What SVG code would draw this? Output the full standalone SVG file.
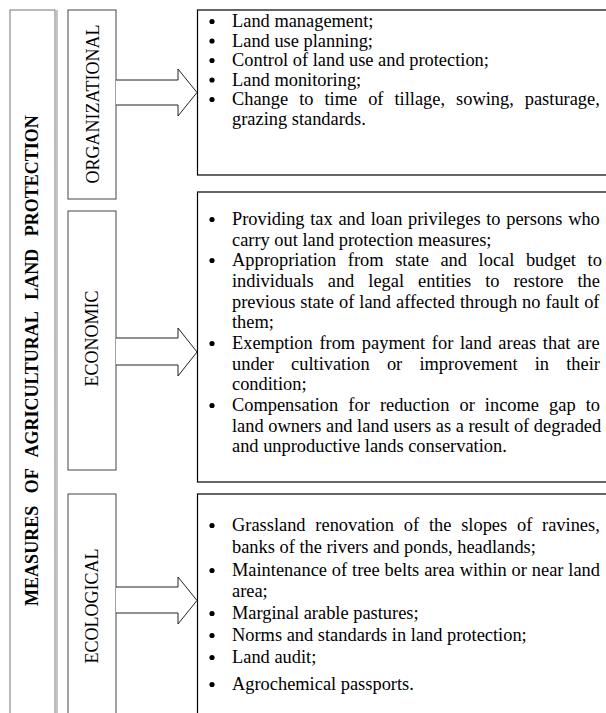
<svg xmlns="http://www.w3.org/2000/svg" width="606" height="713" viewBox="0 0 606 713">
<style>
.t{font-family:"Liberation Serif","Times New Roman",serif;font-size:18.4px;fill:#000}
.cat{font-family:"Liberation Serif","Times New Roman",serif;font-size:18px;fill:#000}
.title{font-family:"Liberation Serif","Times New Roman",serif;font-size:18px;font-weight:bold;fill:#000}
.lbox{fill:#fff;stroke:#444;stroke-width:1}
.rbox{fill:#fff;stroke:#000;stroke-width:1.2}
.arrow{fill:#fff;stroke:#222;stroke-width:1}
.b{fill:#000}
</style>
<rect width="606" height="713" fill="#fff"/>
<g id="title">
<rect x="10" y="10" width="45" height="710" fill="#fff" stroke="#777" stroke-width="1"/>
<line x1="57" y1="10" x2="57" y2="713" stroke="#888" stroke-width="1"/>
<text class="title" transform="translate(38,360.5) rotate(-90)" text-anchor="middle" word-spacing="8">MEASURES OF AGRICULTURAL LAND PROTECTION</text>
</g>
<g id="organizational">
<rect class="lbox" x="68" y="10" width="48" height="189"/>
<text class="cat" transform="translate(99,104) rotate(-90)" text-anchor="middle">ORGANIZATIONAL</text>
</g>
<g id="economic">
<rect class="lbox" x="68" y="211" width="48" height="259"/>
<text class="cat" transform="translate(98,338.5) rotate(-90)" text-anchor="middle">ECONOMIC</text>
</g>
<g id="ecological">
<rect class="lbox" x="68" y="494" width="48" height="230"/>
<text class="cat" transform="translate(98,606) rotate(-90)" text-anchor="middle">ECOLOGICAL</text>
</g>
<g id="connectors">
<path class="arrow" d="M116,80 H178 V69 L197,92.5 L178,116 V105 H116"/>
<path class="arrow" d="M116,338 H178 V328 L197,352 L178,376 V365 H116"/>
<path class="arrow" d="M116,587 H178 V577 L197,600.5 L178,624 V613 H116"/>
</g>
<g id="organizational-measures">
<rect class="rbox" x="197.5" y="10" width="420" height="165"/>
<circle class="b" cx="212" cy="21.5" r="2.6"/>
<circle class="b" cx="212" cy="41" r="2.6"/>
<circle class="b" cx="212" cy="60.5" r="2.6"/>
<circle class="b" cx="212" cy="80" r="2.6"/>
<circle class="b" cx="212" cy="99.5" r="2.6"/>
<text class="t" x="232" y="27">Land management;</text>
<text class="t" x="232" y="46.5">Land use planning;</text>
<text class="t" x="232" y="66">Control of land use and protection;</text>
<text class="t" x="232" y="85.5">Land monitoring;</text>
<text class="t" x="232" y="105" word-spacing="6.4">Change to time of tillage, sowing, pasturage,</text>
<text class="t" x="232" y="124.5">grazing standards.</text>
</g>
<g id="economic-measures">
<rect class="rbox" x="197.5" y="192" width="420" height="290"/>
<circle class="b" cx="212" cy="219.5" r="2.6"/>
<circle class="b" cx="212" cy="260.5" r="2.6"/>
<circle class="b" cx="212" cy="343.5" r="2.6"/>
<circle class="b" cx="212" cy="405.5" r="2.6"/>
<text class="t" x="232" y="225" word-spacing="1.1">Providing tax and loan privileges to persons who</text>
<text class="t" x="232" y="245.5">carry out land protection measures;</text>
<text class="t" x="232" y="266" word-spacing="7">Appropriation from state and local budget to</text>
<text class="t" x="232" y="287" word-spacing="9.4">individuals and legal entities to restore the</text>
<text class="t" x="232" y="307.5" word-spacing="0.4">previous state of land affected through no fault of</text>
<text class="t" x="232" y="328">them;</text>
<text class="t" x="232" y="349" word-spacing="2.1">Exemption from payment for land areas that are</text>
<text class="t" x="232" y="369.5" word-spacing="12.6">under cultivation or improvement in their</text>
<text class="t" x="232" y="390">condition;</text>
<text class="t" x="232" y="411" word-spacing="5.5">Compensation for reduction or income gap to</text>
<text class="t" x="232" y="431.5">land owners and land users as a result of degraded</text>
<text class="t" x="232" y="452">and unproductive lands conservation.</text>
</g>
<g id="ecological-measures">
<rect class="rbox" x="197.5" y="494" width="420" height="230"/>
<circle class="b" cx="212" cy="525.5" r="2.6"/>
<circle class="b" cx="212" cy="570.5" r="2.6"/>
<circle class="b" cx="212" cy="613.5" r="2.6"/>
<circle class="b" cx="212" cy="635.5" r="2.6"/>
<circle class="b" cx="212" cy="657.5" r="2.6"/>
<circle class="b" cx="212" cy="684.5" r="2.6"/>
<text class="t" x="232" y="531" word-spacing="5.2">Grassland renovation of the slopes of ravines,</text>
<text class="t" x="232" y="553">banks of the rivers and ponds, headlands;</text>
<text class="t" x="232" y="576" word-spacing="0.3">Maintenance of tree belts area within or near land</text>
<text class="t" x="232" y="597">area;</text>
<text class="t" x="232" y="619">Marginal arable pastures;</text>
<text class="t" x="232" y="641">Norms and standards in land protection;</text>
<text class="t" x="232" y="663">Land audit;</text>
<text class="t" x="232" y="690">Agrochemical passports.</text>
</g>
</svg>
